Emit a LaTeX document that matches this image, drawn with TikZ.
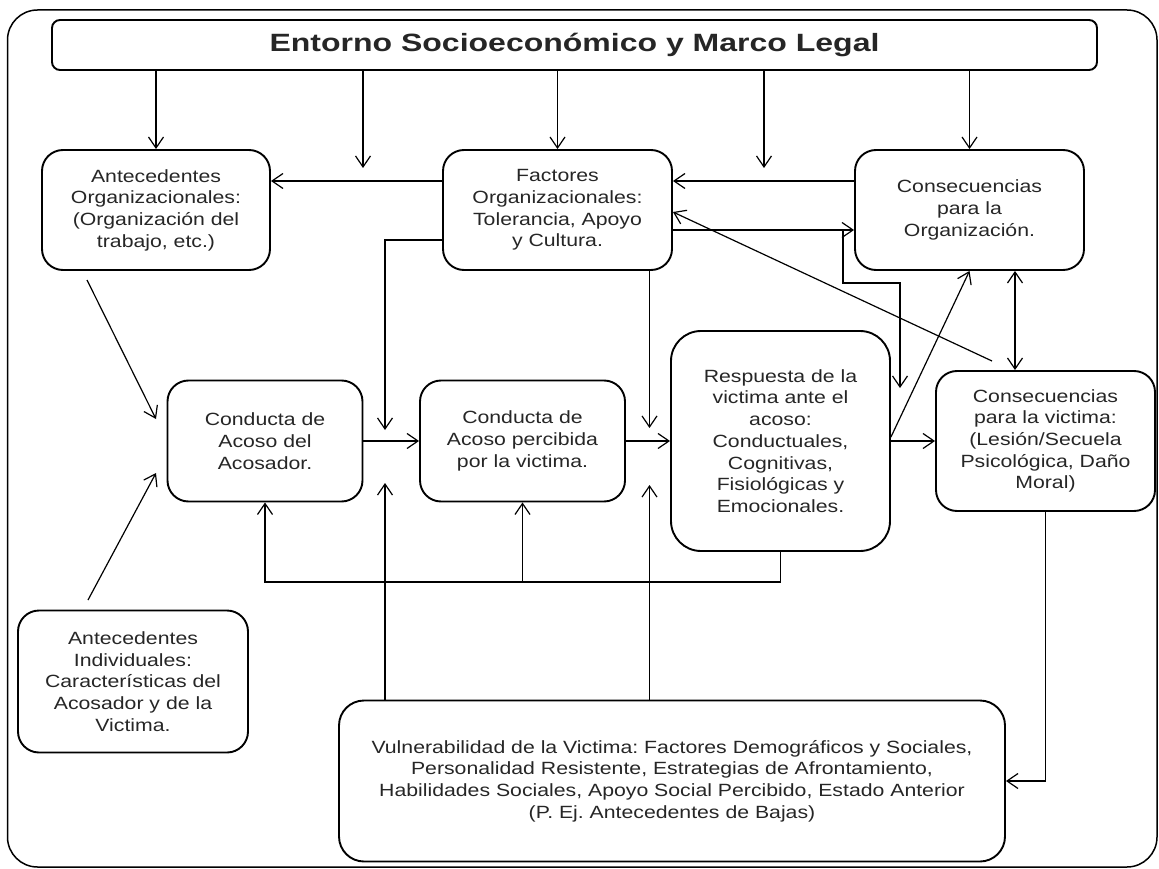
\documentclass[tikz,border=0pt]{standalone}
\usepackage{fontspec}
\setmainfont{Liberation Sans}[FakeStretch=1.2]
\newfontfamily\titlefont{Liberation Sans}[FakeStretch=1.28]
\usetikzlibrary{arrows.meta}
\frenchspacing
\begin{document}
\begin{tikzpicture}[x=1pt,y=-1pt,
  box/.style={draw, line width=1.9pt, rounded corners=21pt, align=center, inner sep=0pt,
    font=\fontsize{17.7}{21.7}\selectfont, text=black!85},
  arr/.style={line width=1.2pt, -{Straight Barb[length=11pt,width=15pt]}},
  dbl/.style={line width=1.2pt, {Straight Barb[length=11pt,width=15pt]}-{Straight Barb[length=11pt,width=15pt]}}]
\useasboundingbox (0,0) rectangle (1159,869);
% outer frame
\draw[line width=1.5pt, rounded corners=30pt] (7.5,10) rectangle (1157,867);
% nodes
\node[box, rounded corners=8pt, minimum width=1045pt, minimum height=50pt,
  font=\titlefont\fontsize{25}{30}\selectfont\bfseries] (title) at (574.5,45) {Entorno Socioeconómico y Marco Legal};
\node[box, minimum width=228pt, minimum height=120pt] (AO) at (156,210) {Antecedentes\\Organizacionales:\\(Organización del\\trabajo, etc.)};
\node[box, minimum width=229pt, minimum height=120pt] (FO) at (557.5,210) {Factores\\Organizacionales:\\Tolerancia, Apoyo\\y Cultura.};
\node[box, minimum width=229pt, minimum height=120pt] (CO) at (969.5,210) {Consecuencias\\para la\\Organización.};
\node[box, minimum width=195pt, minimum height=121pt] (CA) at (265,441) {Conducta de\\Acoso del\\Acosador.};
\node[box, minimum width=205pt, minimum height=121pt] (CP) at (522.5,441) {Conducta de\\Acoso percibida\\por la victima.};
\node[box, rounded corners=30pt, minimum width=219pt, minimum height=220pt] (R) at (780.5,441) {Respuesta de la\\victima ante el\\acoso:\\Conductuales,\\Cognitivas,\\Fisiológicas y\\Emocionales.};
\node[box, minimum width=219pt, minimum height=140pt] (CV) at (1045.5,441) {Consecuencias\\para la victima:\\(Lesión/Secuela\\Psicológica, Daño\\Moral)};
\node[box, minimum width=230pt, minimum height=142pt] (AI) at (133,681.5) {Antecedentes\\Individuales:\\Características del\\Acosador y de la\\Victima.};
\node[box, rounded corners=25pt, minimum width=666pt, minimum height=161pt] (V) at (672,781) {Vulnerabilidad de la Victima: Factores Demográficos y Sociales,\\Personalidad Resistente, Estrategias de Afrontamiento,\\Habilidades Sociales, Apoyo Social Percibido, Estado Anterior\\(P. Ej. Antecedentes de Bajas)};
% free ends
\coordinate (t2) at (363,168);
\coordinate (t4) at (764,168);
\coordinate (d1) at (992,361);
\coordinate (s0) at (843,230);
\coordinate (s1) at (900,388);
\coordinate (c1) at (385,430);
\coordinate (c2) at (649.5,428);
\coordinate (u1) at (385,483);
\coordinate (u2) at (649.5,485);
\coordinate (fb) at (781,582);
\coordinate (a1) at (87,280);
\coordinate (a2) at (156,419);
\coordinate (b1) at (88,600);
\coordinate (b2) at (156,473);
% connectors from title
\draw[arr] (title.south -| AO.north) -- (AO.north);
\draw[arr] (title.south -| t2) -- (t2);
\draw[arr] (title.south -| FO.north) -- (FO.north);
\draw[arr] (title.south -| t4) -- (t4);
\draw[arr] (title.south -| CO.north) -- (CO.north);
% top row
\draw[arr] ([yshift=29pt]FO.west) -- ([yshift=29pt]AO.east);
\draw[arr] ([yshift=29pt]CO.west) -- ([yshift=29pt]FO.east);
\draw[arr] ([yshift=-20pt]FO.east) -- ([yshift=-20pt]CO.west);
\draw[arr] (d1) -- ([yshift=-2pt]FO.east);
\draw[arr] (s0) -- ++(0,53) -| (s1);
\draw[arr] ([yshift=-30pt]FO.west) -| (c1);
\draw[arr] (FO.south -| c2) -- (c2);
% middle row
\draw[arr] (CA.east) -- (CP.west);
\draw[arr] (CP.east) -- (R.west);
\draw[arr] (R.east) -- (CV.west);
\draw[arr] ([yshift=4pt]R.east) -- (CO.south);
\draw[dbl] ([xshift=-30.5pt]CV.north) -- ([xshift=-30.5pt]CV.north |- CO.south);
% feedback
\draw[arr] (R.south) -- (R.south |- fb) -| (CA.south);
\draw[arr] (CP.south |- fb) -- (CP.south);
% vulnerability
\draw[arr] (V.north -| u1) -- (u1);
\draw[arr] (V.north -| u2) -- (u2);
\draw[arr] (CV.south) |- (V.east);
% antecedents
\draw[arr] (a1) -- (a2);
\draw[arr] (b1) -- (b2);
\end{tikzpicture}
\end{document}
